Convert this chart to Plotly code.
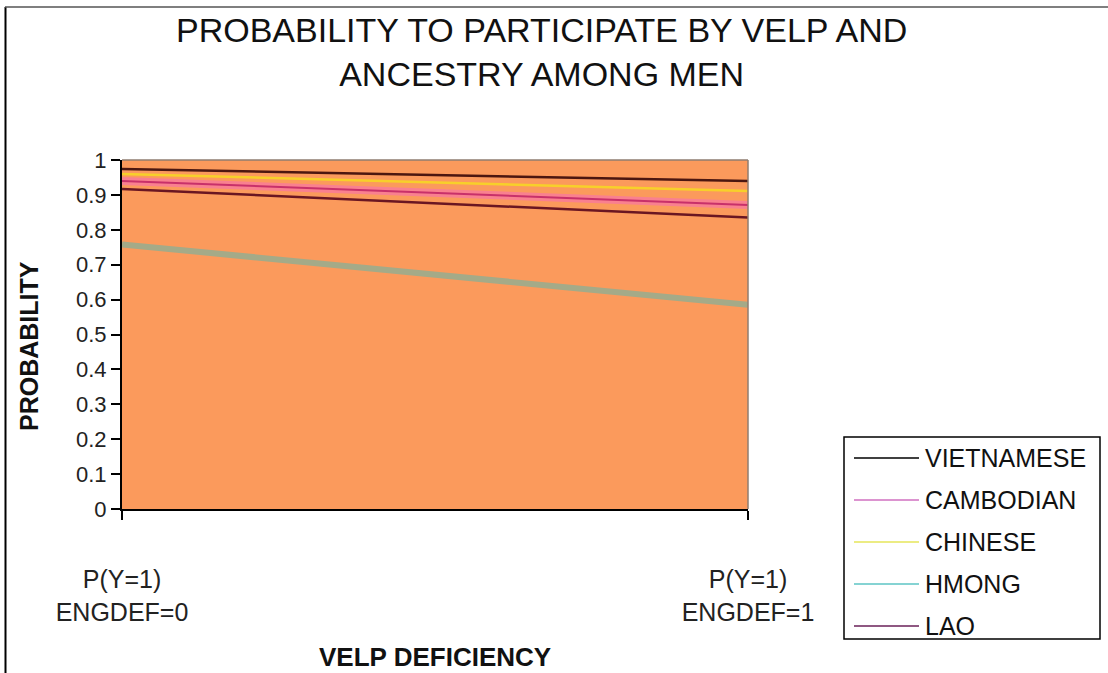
import plotly.graph_objects as go

# Two evaluation points on the x axis
categories = ["P(Y=1)<br>ENGDEF=0", "P(Y=1)<br>ENGDEF=1"]

# Predicted participation probability by ancestry
series_names = ["VIETNAMESE", "CAMBODIAN", "CHINESE", "HMONG", "LAO"]
vietnamese = [0.974, 0.940]
cambodian = [0.940, 0.871]
chinese = [0.960, 0.911]
hmong = [0.758, 0.585]
lao = [0.917, 0.835]

y_ticks = [0, 0.1, 0.2, 0.3, 0.4, 0.5, 0.6, 0.7, 0.8, 0.9, 1]
y_tick_text = ["0", "0.1", "0.2", "0.3", "0.4", "0.5", "0.6", "0.7", "0.8", "0.9", "1"]

W, H = 1108, 673
L, R, T, B = 122, 748, 160, 509   # plot area in pixels


def px(x):
    return (x - L) / (R - L)


def py(y):
    return (B - y) / (B - T)


FONT = "Liberation Sans, Arial, sans-serif"

fig = go.Figure()

series_values = {
    "VIETNAMESE": vietnamese,
    "CAMBODIAN": cambodian,
    "CHINESE": chinese,
    "HMONG": hmong,
    "LAO": lao,
}

fig.add_trace(go.Scatter(x=categories, y=hmong, mode="lines", name="HMONG",
                         line=dict(color="#a4aa88", width=6), showlegend=False))

# Pink halo under the Cambodian line
fig.add_trace(go.Scatter(x=categories, y=cambodian, mode="lines",
                         line=dict(color="#f9808f", width=8),
                         showlegend=False, hoverinfo="skip"))

line_styles = {
    "LAO": ("#6a1622", 2.5),
    "CAMBODIAN": ("#c8306a", 2),
    "CHINESE": ("#f7d02a", 2.5),
    "VIETNAMESE": ("#4c1710", 2.5),
}
for name in ["LAO", "CAMBODIAN", "CHINESE", "VIETNAMESE"]:
    color, width = line_styles[name]
    fig.add_trace(go.Scatter(x=categories, y=series_values[name], mode="lines",
                             name=name, line=dict(color=color, width=width),
                             showlegend=False))

shapes = []
annotations = []

# Plot frame: grey on top and right
shapes.append(dict(type="line", xref="paper", yref="paper", x0=0, x1=1, y0=1, y1=1,
                   line=dict(color="#8f7d70", width=1.5)))
shapes.append(dict(type="line", xref="paper", yref="paper", x0=1, x1=1, y0=0, y1=1,
                   line=dict(color="#8f7d70", width=1.5)))

# Outer chart frame (left and top edges)
shapes.append(dict(type="line", xref="paper", yref="paper",
                   x0=px(5.5), x1=px(5.5), y0=py(7), y1=py(680),
                   line=dict(color="#000000", width=2)))
shapes.append(dict(type="line", xref="paper", yref="paper",
                   x0=px(5), x1=px(1115), y0=py(7), y1=py(7),
                   line=dict(color="#555555", width=1.5)))

# Legend box
legend_colors = {
    "VIETNAMESE": "#000000",
    "CAMBODIAN": "#d070c0",
    "CHINESE": "#e6e65a",
    "HMONG": "#5cc4c4",
    "LAO": "#6a2058",
}
shapes.append(dict(type="rect", xref="paper", yref="paper",
                   x0=px(844), x1=px(1100), y0=py(437), y1=py(639),
                   line=dict(color="#000000", width=1.5), fillcolor="white"))
row_y = [458, 500, 542, 584, 626]
for name, yy in zip(series_names, row_y):
    shapes.append(dict(type="line", xref="paper", yref="paper",
                       x0=px(854), x1=px(919), y0=py(yy), y1=py(yy),
                       line=dict(color=legend_colors[name], width=1.5)))
    annotations.append(dict(xref="paper", yref="paper", x=px(923), y=py(yy),
                            xanchor="left", yanchor="middle", showarrow=False,
                            text=name, font=dict(family=FONT, size=25, color="#111111")))

# Chart title
annotations.append(dict(xref="paper", yref="paper", x=px(541), y=py(52),
                        xanchor="center", yanchor="middle", showarrow=False,
                        text="PROBABILITY TO PARTICIPATE BY VELP AND<br>ANCESTRY AMONG MEN",
                        font=dict(family=FONT, size=34, color="#111111")))

# Axis titles
annotations.append(dict(xref="paper", yref="paper", x=px(29), y=py(346),
                        xanchor="center", yanchor="middle", showarrow=False,
                        textangle=-90, text="<b>PROBABILITY</b>",
                        font=dict(family=FONT, size=25, color="#111111")))
annotations.append(dict(xref="paper", yref="paper", x=px(435), y=py(657),
                        xanchor="center", yanchor="middle", showarrow=False,
                        text="<b>VELP DEFICIENCY</b>",
                        font=dict(family=FONT, size=26, color="#111111")))

fig.update_layout(
    width=W, height=H,
    margin=dict(l=L, r=W - R, t=T, b=H - B),
    paper_bgcolor="white",
    plot_bgcolor="#fb9a5c",
    showlegend=False,
    shapes=shapes,
    annotations=annotations,
    xaxis=dict(type="category", range=[0, 1], showgrid=False, zeroline=False,
               showline=True, linecolor="#000000", linewidth=2,
               ticks="outside", ticklen=9, tickcolor="#000000", tickwidth=1.5,
               ticklabelstandoff=38,
               tickfont=dict(family=FONT, size=25, color="#222222")),
    yaxis=dict(range=[0, 1], showgrid=False, zeroline=False,
               showline=True, linecolor="#000000", linewidth=2,
               tickvals=y_ticks, ticktext=y_tick_text,
               ticks="outside", ticklen=9, tickcolor="#000000", tickwidth=1.5,
               tickfont=dict(family=FONT, size=22, color="#222222")),
)

fig.write_html("out.html")
